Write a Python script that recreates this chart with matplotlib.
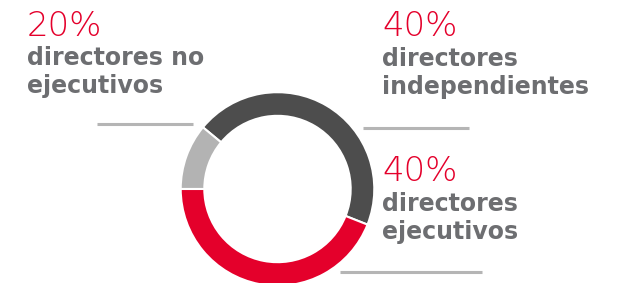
import matplotlib
matplotlib.use('Agg')
import matplotlib.pyplot as plt

# composition of the board (arc sizes as drawn in the graphic)
categories = ['independientes', 'no ejecutivos', 'ejecutivos']
arc_share = [45, 11, 44]
pct_labels = ['40%', '20%', '40%']
name_lines = [['directores', 'independientes'],
              ['directores no', 'ejecutivos'],
              ['directores', 'ejecutivos']]
colors = ['#4d4d4d', '#b3b3b3', '#e4002b']

W, H = 618, 283
fig = plt.figure(figsize=(W / 100, H / 100), dpi=100)

# background axes in pixel coordinates for texts and rules
bg = fig.add_axes([0, 0, 1, 1])
bg.set_xlim(0, W)
bg.set_ylim(H, 0)
bg.axis('off')

# donut
cx, cy, R = 277.5, 189, 96.8
ax = fig.add_axes([(cx - R) / W, (H - cy - R) / H, 2 * R / W, 2 * R / H])
ax.pie(arc_share, colors=colors, startangle=-21.6, counterclock=True,
       radius=1, wedgeprops=dict(width=0.244, edgecolor='white', linewidth=1.5))
ax.set_xlim(-1, 1)
ax.set_ylim(-1, 1)
ax.set_aspect('auto')
ax.axis('off')

red = '#e4002b'
grey_txt = '#6d6e71'
rule = '#b5b5b5'

# label blocks: (x, percent baseline, first line baseline, line step)
blocks = [(382, 36, 66, 28), (27, 36, 65, 28), (382, 181, 211, 28)]
for (x, yp, y1, step), pct, lines in zip(blocks, pct_labels, name_lines):
    bg.text(x, yp, pct, color=red, fontsize=24.5, fontweight=200,
            family='DejaVu Sans', va='baseline', ha='left')
    for i, ln in enumerate(lines):
        bg.text(x, y1 + i * step, ln, color=grey_txt, fontsize=17,
                fontweight='bold', family='DejaVu Sans', va='baseline', ha='left')

# rules
for x0, x1, y in [(97, 193, 124), (363, 469, 128), (340, 482, 272)]:
    bg.plot([x0, x1], [y, y], color=rule, lw=2.2, solid_capstyle='butt')

fig.savefig('out.png', dpi=100)
